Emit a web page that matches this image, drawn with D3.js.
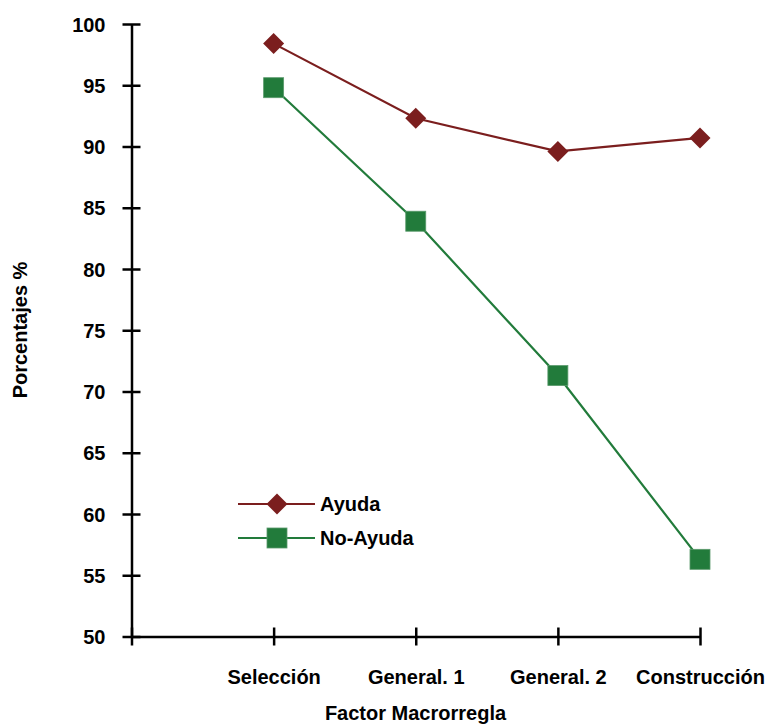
<!DOCTYPE html>
<html>
<head>
<meta charset="utf-8">
<script src="https://cdn.jsdelivr.net/npm/d3@7"></script>
<style>
  html, body { margin: 0; padding: 0; background: #fff; }
  svg text { font-family: "Liberation Sans", Arial, sans-serif; font-weight: bold; fill: #000; }
</style>
</head>
<body>
<svg id="chart" width="770" height="727"></svg>
<script>
const categories = ["Selección", "General. 1", "General. 2", "Construcción"];
const ayuda = [98.4, 92.3, 89.6, 90.7];
const noAyuda = [94.8, 83.9, 71.3, 56.3];
const yTicks = [50, 55, 60, 65, 70, 75, 80, 85, 90, 95, 100];
const seriesNames = ["Ayuda", "No-Ayuda"];
const seriesColors = ["#7b1e1e", "#227b3b"];

const svg = d3.select("#chart");
const x = d3.scaleLinear().domain([0, 4]).range([131.5, 700]);
const y = d3.scaleLinear().domain([50, 100]).range([636.5, 24]);
const fs = 20;

// Y axis
const yAxis = svg.append("g").attr("transform", "translate(131.5,0)")
  .call(d3.axisLeft(y).tickValues(yTicks).tickSize(9).tickSizeOuter(0));
yAxis.select(".domain").attr("stroke", "#000").attr("stroke-width", 2.5);
yAxis.selectAll(".tick line").attr("x1", 9).attr("x2", -9).attr("stroke", "#000").attr("stroke-width", 2.5);
yAxis.selectAll(".tick text").attr("x", -26).attr("dy", "0.35em")
  .style("font-size", fs + "px").attr("font-family", null);

// X axis
const xAxis = svg.append("g").attr("transform", "translate(0,636.5)")
  .call(d3.axisBottom(x).tickValues([0, 1, 2, 3, 4]).tickSize(9).tickSizeOuter(0)
    .tickFormat(d => d === 0 ? "" : categories[d - 1]));
xAxis.select(".domain").attr("stroke", "#000").attr("stroke-width", 2.5);
xAxis.selectAll(".tick line").attr("y1", -9).attr("y2", 9).attr("stroke", "#000").attr("stroke-width", 2.5);
xAxis.selectAll(".tick text").attr("y", 47.5).attr("dy", 0)
  .style("font-size", fs + "px").attr("font-family", null);

// Axis titles
svg.append("text").attr("x", 415.5).attr("y", 720).attr("text-anchor", "middle")
  .style("font-size", fs + "px").text("Factor Macrorregla");
svg.append("text").attr("transform", "translate(27,330) rotate(-90)").attr("text-anchor", "middle")
  .style("font-size", fs + "px").text("Porcentajes %");

const line = d3.line().x((d, i) => x(i + 1)).y(d => y(d));

function drawDiamond(g, cx, cy, color) {
  const h = 10.5;
  g.append("path").attr("d", `M${cx},${cy - h}L${cx + h},${cy}L${cx},${cy + h}L${cx - h},${cy}Z`)
    .attr("fill", color);
}
function drawSquare(g, cx, cy, color) {
  g.append("rect").attr("x", cx - 10).attr("y", cy - 10).attr("width", 20).attr("height", 20)
    .attr("fill", color).attr("stroke", "#5a9a6c").attr("stroke-width", 0.8);
}

// Series
const data = [ayuda, noAyuda];
data.forEach((vals, si) => {
  const g = svg.append("g");
  g.append("path").datum(vals).attr("d", line).attr("fill", "none")
    .attr("stroke", seriesColors[si]).attr("stroke-width", 2.2);
  vals.forEach((v, i) => {
    if (si === 0) drawDiamond(g, x(i + 1), y(v), seriesColors[si]);
    else drawSquare(g, x(i + 1), y(v), seriesColors[si]);
  });
});

// Legend
const legY = [504, 538];
seriesNames.forEach((name, si) => {
  const g = svg.append("g");
  g.append("line").attr("x1", 238).attr("x2", 315).attr("y1", legY[si]).attr("y2", legY[si])
    .attr("stroke", seriesColors[si]).attr("stroke-width", 2.2);
  if (si === 0) drawDiamond(g, 277, legY[si], seriesColors[si]);
  else drawSquare(g, 277, legY[si], seriesColors[si]);
  g.append("text").attr("x", 320).attr("y", legY[si]).attr("dy", "0.36em")
    .style("font-size", fs + "px").text(name);
});
</script>
</body>
</html>
